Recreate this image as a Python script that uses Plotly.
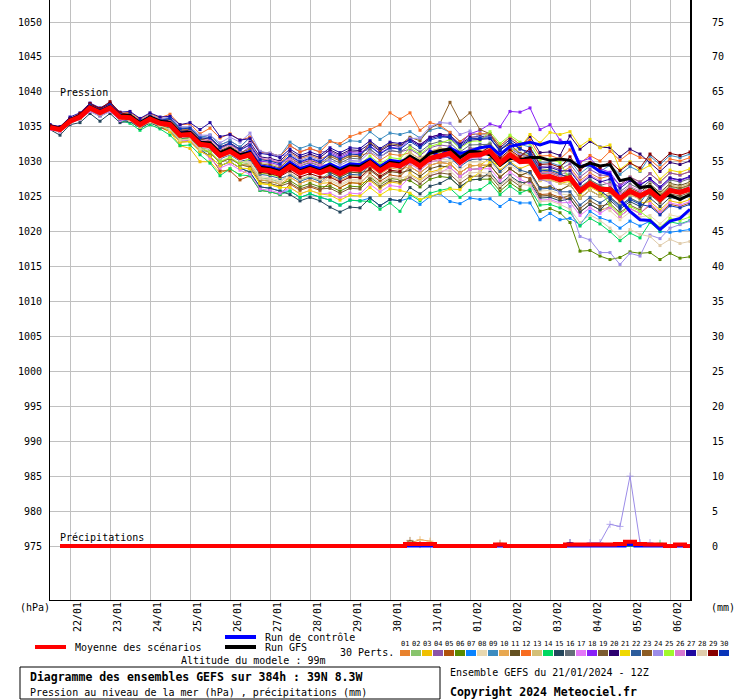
import plotly.graph_objects as go

# ---------------- data ----------------
hours = list(range(0, 385, 6))          # 65 steps, run 21/01/2024 12Z
rr_hours = hours[1:]                    # precipitation accumulations start at +6h
date_hours = [12, 36, 60, 84, 108, 132, 156, 180, 204, 228, 252, 276, 300, 324, 348, 372]
date_labels = ["22/01", "23/01", "24/01", "25/01", "26/01", "27/01", "28/01", "29/01",
               "30/01", "31/01", "01/02", "02/02", "03/02", "04/02", "05/02", "06/02"]
pressure_ticks = [975, 980, 985, 990, 995, 1000, 1005, 1010, 1015, 1020, 1025, 1030, 1035, 1040, 1045, 1050]
precip_ticks = [0, 5, 10, 15, 20, 25, 30, 35, 40, 45, 50, 55, 60, 65, 70, 75]

mean_p = [1034.9, 1034.6, 1035.8, 1036.4, 1037.7, 1037.0, 1037.7, 1036.4, 1036.3, 1035.3, 1036.1, 1035.5,
          1035.3, 1033.8, 1033.9, 1032.5, 1032.3, 1030.9, 1031.5, 1030.6, 1031.0, 1028.9, 1028.7, 1028.3,
          1029.3, 1028.4, 1028.9, 1028.4, 1029.0, 1028.3, 1029.0, 1028.9, 1029.8, 1028.7, 1029.6, 1029.4,
          1030.3, 1029.4, 1030.5, 1030.9, 1031.2, 1029.9, 1030.9, 1031.0, 1031.5, 1029.8, 1031.0, 1030.0,
          1030.1, 1027.8, 1027.9, 1027.4, 1027.7, 1025.8, 1026.9, 1026.1, 1026.0, 1024.7, 1025.8, 1025.1,
          1025.8, 1024.6, 1025.9, 1025.6, 1026.1]
control_p = [1035.0, 1034.7, 1035.9, 1036.5, 1037.9, 1037.2, 1037.9, 1036.6, 1036.5, 1035.5, 1036.3, 1035.7,
             1035.6, 1034.1, 1034.2, 1032.8, 1032.6, 1031.2, 1031.8, 1030.9, 1031.5, 1029.4, 1029.2, 1028.8,
             1029.9, 1029.0, 1029.5, 1029.0, 1029.7, 1029.0, 1029.7, 1029.6, 1030.4, 1029.3, 1030.2, 1030.0,
             1030.5, 1029.4, 1031.5, 1030.8, 1032.0, 1031.2, 1031.5, 1032.0, 1032.2, 1031.0, 1032.2, 1032.5,
             1032.8, 1032.4, 1032.9, 1032.7, 1032.8, 1029.3, 1029.6, 1028.6, 1028.2, 1024.6, 1022.9, 1021.7,
             1021.6, 1020.3, 1021.5, 1021.9, 1023.2]
gfs_p = [1035.1, 1034.8, 1036.0, 1036.6, 1037.9, 1037.2, 1037.9, 1036.6, 1036.6, 1035.6, 1036.4, 1035.8,
         1035.6, 1034.1, 1034.2, 1032.8, 1032.7, 1031.3, 1031.9, 1031.0, 1031.3, 1029.2, 1029.0, 1028.6,
         1029.6, 1028.7, 1029.2, 1028.7, 1029.4, 1028.7, 1029.4, 1029.3, 1030.1, 1029.0, 1029.9, 1029.7,
         1030.8, 1030.0, 1031.2, 1031.6, 1031.8, 1030.6, 1031.5, 1031.4, 1031.0, 1029.5, 1030.5, 1030.3,
         1030.6, 1030.6, 1030.2, 1030.4, 1030.2, 1029.2, 1029.8, 1029.4, 1029.6, 1027.3, 1027.6, 1026.3,
         1026.5, 1025.0, 1025.2, 1024.6, 1025.3]

p01 = [1035.1, 1034.8, 1036.0, 1036.6, 1038.0, 1037.3, 1038.0, 1036.7, 1036.8, 1035.8, 1036.6, 1036.0,
       1036.1, 1034.6, 1034.7, 1033.3, 1033.3, 1031.9, 1032.5, 1031.6, 1032.5, 1030.4, 1030.2, 1029.8,
       1031.3, 1030.4, 1030.9, 1030.4, 1031.0, 1030.3, 1031.0, 1030.9, 1031.3, 1030.2, 1031.1, 1030.9,
       1031.3, 1030.4, 1031.5, 1031.9, 1031.7, 1030.4, 1031.4, 1031.5, 1032.0, 1030.3, 1031.5, 1030.5,
       1031.1, 1028.8, 1028.9, 1028.4, 1029.2, 1027.3, 1028.4, 1027.6, 1028.0, 1026.7, 1027.8, 1027.1,
       1028.3, 1027.1, 1028.4, 1028.1, 1028.6]
p02 = [1034.6, 1034.3, 1035.5, 1036.1, 1037.4, 1036.7, 1037.4, 1036.1, 1035.8, 1034.8, 1035.6, 1035.0,
       1034.5, 1033.0, 1033.1, 1031.7, 1031.3, 1029.9, 1030.5, 1029.6, 1029.8, 1027.7, 1027.5, 1027.1,
       1028.3, 1027.4, 1027.9, 1027.4, 1028.5, 1027.8, 1028.5, 1028.4, 1029.8, 1028.7, 1029.6, 1029.4,
       1030.8, 1029.9, 1031.0, 1031.4, 1032.2, 1030.9, 1031.9, 1032.0, 1032.7, 1031.0, 1032.2, 1031.2,
       1031.1, 1028.8, 1028.9, 1028.4, 1028.2, 1026.3, 1027.4, 1026.6, 1026.0, 1024.7, 1025.8, 1025.1,
       1026.3, 1025.1, 1026.4, 1026.1, 1026.6]
p03 = [1034.9, 1034.6, 1035.8, 1036.4, 1037.4, 1036.7, 1037.4, 1036.1, 1035.8, 1034.8, 1035.6, 1035.0,
       1034.3, 1032.3, 1031.9, 1030.0, 1030.0, 1028.4, 1029.0, 1028.1, 1029.0, 1026.9, 1026.7, 1026.3,
       1027.8, 1026.9, 1027.4, 1026.9, 1027.0, 1026.3, 1027.0, 1026.9, 1027.3, 1026.2, 1027.1, 1026.9,
       1028.3, 1027.4, 1028.5, 1028.9, 1029.7, 1028.4, 1029.4, 1029.5, 1030.5, 1028.8, 1030.0, 1029.0,
       1029.6, 1027.3, 1027.4, 1026.9, 1027.2, 1025.3, 1026.4, 1025.6, 1025.0, 1023.7, 1024.8, 1024.1,
       1024.3, 1023.1, 1024.4, 1024.1, 1024.6]
p04 = [1035.2, 1034.9, 1036.1, 1036.7, 1038.0, 1037.3, 1038.0, 1036.7, 1036.8, 1035.8, 1036.6, 1036.0,
       1036.3, 1034.8, 1034.9, 1033.5, 1033.8, 1032.4, 1033.0, 1032.1, 1033.5, 1031.4, 1031.2, 1030.8,
       1032.3, 1031.4, 1031.9, 1031.4, 1031.5, 1030.8, 1031.5, 1031.4, 1031.8, 1030.7, 1031.6, 1031.4,
       1031.8, 1030.9, 1032.0, 1032.4, 1032.2, 1030.9, 1031.9, 1032.0, 1032.5, 1030.8, 1032.0, 1031.0,
       1031.6, 1029.3, 1029.4, 1028.9, 1029.7, 1027.8, 1028.9, 1028.1, 1028.0, 1026.7, 1027.8, 1027.1,
       1028.3, 1027.1, 1028.4, 1028.1, 1028.6]
p05 = [1034.7, 1034.4, 1035.6, 1036.2, 1037.7, 1037.0, 1037.7, 1036.4, 1035.8, 1034.8, 1035.6, 1035.0,
       1034.3, 1032.8, 1032.9, 1031.5, 1030.8, 1028.7, 1028.7, 1027.4, 1028.0, 1025.9, 1025.7, 1025.3,
       1026.8, 1025.9, 1026.4, 1025.9, 1027.0, 1026.3, 1027.0, 1026.9, 1028.3, 1027.2, 1028.1, 1027.9,
       1029.3, 1028.4, 1029.5, 1029.9, 1029.7, 1028.4, 1029.4, 1029.5, 1029.5, 1027.8, 1029.0, 1028.0,
       1027.6, 1025.3, 1025.4, 1024.9, 1024.7, 1022.8, 1023.9, 1023.1, 1023.5, 1022.2, 1023.3, 1022.6,
       1023.8, 1022.6, 1023.9, 1023.6, 1024.1]
p06 = [1034.9, 1034.6, 1035.8, 1036.4, 1037.5, 1036.8, 1037.5, 1036.2, 1036.0, 1035.0, 1035.8, 1035.2,
       1034.8, 1033.3, 1033.4, 1032.0, 1031.3, 1029.9, 1030.5, 1029.6, 1029.5, 1027.4, 1027.2, 1026.8,
       1027.3, 1026.4, 1026.9, 1026.4, 1026.5, 1025.8, 1026.5, 1026.4, 1027.8, 1026.7, 1027.6, 1027.4,
       1027.3, 1026.4, 1027.5, 1027.9, 1027.7, 1026.4, 1027.4, 1027.5, 1027.5, 1025.8, 1027.0, 1026.0,
       1025.8, 1022.9, 1023.3, 1022.7, 1021.3, 1017.2, 1017.3, 1016.5, 1016.0, 1016.3, 1017.1, 1016.9,
       1017.0, 1016.0, 1016.9, 1016.2, 1016.4]
p07 = [1034.9, 1034.6, 1035.8, 1036.4, 1037.4, 1036.7, 1037.4, 1036.1, 1035.8, 1034.8, 1035.6, 1035.0,
       1034.5, 1033.0, 1033.1, 1031.7, 1030.8, 1029.4, 1030.0, 1029.1, 1028.5, 1026.4, 1026.2, 1025.8,
       1025.8, 1024.9, 1025.4, 1024.9, 1024.5, 1023.8, 1024.5, 1024.4, 1024.8, 1023.7, 1024.6, 1024.4,
       1024.8, 1023.9, 1025.0, 1025.4, 1024.3, 1024.0, 1024.8, 1024.6, 1024.7, 1023.6, 1024.6, 1024.1,
       1024.1, 1021.7, 1022.6, 1021.7, 1021.9, 1021.0, 1022.9, 1022.0, 1021.5, 1020.5, 1021.5, 1020.8,
       1021.5, 1020.0, 1019.9, 1020.1, 1020.3]
p08 = [1034.9, 1034.6, 1035.8, 1036.4, 1037.7, 1037.0, 1037.7, 1036.4, 1036.1, 1035.1, 1035.9, 1035.3,
       1034.8, 1033.3, 1033.4, 1032.0, 1031.5, 1030.1, 1030.7, 1029.8, 1030.0, 1027.9, 1027.7, 1027.3,
       1027.8, 1026.9, 1027.4, 1026.9, 1027.5, 1026.8, 1027.5, 1027.4, 1028.8, 1027.7, 1028.6, 1028.4,
       1029.8, 1028.9, 1030.0, 1030.4, 1030.2, 1028.9, 1029.9, 1030.0, 1030.0, 1028.3, 1029.5, 1028.5,
       1028.1, 1025.8, 1025.9, 1025.4, 1025.2, 1023.3, 1024.4, 1023.6, 1023.0, 1021.7, 1022.8, 1022.1,
       1022.3, 1021.1, 1022.4, 1022.1, 1022.6]
p09 = [1035.1, 1034.8, 1036.0, 1036.6, 1038.0, 1037.3, 1038.0, 1036.7, 1036.8, 1035.8, 1036.6, 1036.0,
       1036.3, 1034.8, 1034.9, 1033.5, 1033.8, 1032.4, 1033.0, 1032.1, 1033.5, 1031.4, 1031.2, 1030.8,
       1032.8, 1031.9, 1032.4, 1031.9, 1033.0, 1032.3, 1033.0, 1032.9, 1034.3, 1033.2, 1034.1, 1033.9,
       1034.3, 1033.4, 1034.5, 1034.9, 1034.2, 1032.9, 1033.9, 1034.0, 1034.0, 1032.3, 1033.5, 1032.5,
       1032.1, 1029.8, 1029.9, 1029.4, 1030.2, 1028.3, 1029.4, 1028.6, 1029.5, 1028.2, 1029.3, 1028.6,
       1030.8, 1029.6, 1030.9, 1030.6, 1031.1]
p10 = [1034.7, 1034.4, 1035.6, 1036.2, 1037.4, 1036.7, 1037.4, 1036.1, 1036.1, 1035.1, 1035.9, 1035.3,
       1034.8, 1033.3, 1033.4, 1032.0, 1031.3, 1029.9, 1030.5, 1029.6, 1029.5, 1027.4, 1027.2, 1026.8,
       1027.8, 1026.9, 1027.4, 1026.9, 1028.0, 1027.3, 1028.0, 1027.9, 1029.3, 1028.2, 1029.1, 1028.9,
       1029.3, 1028.4, 1029.5, 1029.9, 1029.7, 1028.4, 1029.4, 1029.5, 1029.5, 1027.8, 1029.0, 1028.0,
       1028.6, 1026.3, 1026.4, 1025.9, 1026.7, 1024.8, 1025.9, 1025.1, 1025.5, 1024.2, 1025.3, 1024.6,
       1025.8, 1024.6, 1025.9, 1025.6, 1026.1]
p11 = [1035.2, 1034.9, 1036.1, 1036.7, 1038.2, 1037.5, 1038.2, 1036.9, 1036.6, 1035.6, 1036.4, 1035.8,
       1035.8, 1034.3, 1034.4, 1033.0, 1032.8, 1031.4, 1032.0, 1031.1, 1031.3, 1029.2, 1029.0, 1028.6,
       1029.3, 1028.4, 1028.9, 1028.4, 1028.5, 1027.8, 1028.5, 1028.4, 1028.8, 1027.7, 1028.6, 1028.4,
       1028.8, 1027.9, 1029.0, 1029.4, 1029.2, 1027.9, 1028.9, 1029.0, 1029.5, 1027.8, 1029.0, 1028.0,
       1028.6, 1026.3, 1026.4, 1025.9, 1026.7, 1024.8, 1025.9, 1025.1, 1026.5, 1025.2, 1026.3, 1025.6,
       1026.8, 1025.6, 1026.9, 1026.6, 1027.1]
p12 = [1035.1, 1034.8, 1036.0, 1036.6, 1038.2, 1037.5, 1038.2, 1036.9, 1037.1, 1036.1, 1036.9, 1036.3,
       1036.8, 1035.3, 1035.4, 1034.0, 1034.8, 1033.4, 1034.0, 1033.1, 1033.5, 1031.4, 1031.2, 1030.8,
       1032.3, 1031.4, 1031.9, 1031.4, 1032.9, 1032.6, 1033.6, 1034.1, 1034.6, 1035.3, 1037.0, 1036.1,
       1037.0, 1034.5, 1035.6, 1035.2, 1034.2, 1032.9, 1033.9, 1034.0, 1034.0, 1032.3, 1033.5, 1032.5,
       1033.1, 1030.8, 1030.9, 1030.4, 1031.7, 1029.8, 1030.9, 1030.1, 1031.5, 1030.2, 1031.3, 1030.6,
       1030.3, 1029.1, 1030.4, 1030.1, 1030.6]
p13 = [1034.9, 1034.6, 1035.8, 1036.4, 1037.9, 1037.2, 1037.9, 1036.6, 1036.6, 1035.6, 1036.4, 1035.8,
       1035.8, 1034.3, 1034.4, 1033.0, 1032.8, 1031.4, 1032.0, 1031.1, 1032.0, 1029.9, 1029.7, 1029.3,
       1030.3, 1029.4, 1029.9, 1029.4, 1029.5, 1028.8, 1029.5, 1029.4, 1030.3, 1029.2, 1030.1, 1029.9,
       1031.3, 1030.4, 1031.5, 1031.9, 1031.7, 1030.4, 1031.4, 1031.5, 1031.5, 1029.8, 1031.0, 1030.0,
       1029.6, 1027.3, 1027.4, 1026.9, 1026.7, 1024.8, 1025.9, 1025.1, 1024.8, 1023.9, 1025.5, 1025.3,
       1026.6, 1025.4, 1026.7, 1026.4, 1026.9]
p14 = [1034.7, 1034.4, 1035.6, 1036.2, 1037.2, 1036.5, 1037.2, 1035.9, 1035.5, 1034.5, 1035.3, 1034.7,
       1033.8, 1032.3, 1032.4, 1031.0, 1029.8, 1028.0, 1029.0, 1028.1, 1028.0, 1025.9, 1025.7, 1025.3,
       1025.8, 1024.9, 1025.4, 1024.9, 1024.5, 1023.8, 1024.5, 1024.4, 1024.3, 1023.2, 1024.1, 1022.9,
       1025.3, 1024.4, 1025.5, 1025.9, 1026.2, 1024.9, 1025.9, 1026.0, 1027.0, 1025.3, 1026.5, 1025.5,
       1026.1, 1023.8, 1023.9, 1023.4, 1022.7, 1020.8, 1021.9, 1021.1, 1020.0, 1018.7, 1019.8, 1019.1,
       1021.3, 1020.1, 1021.4, 1021.1, 1021.6]
p15 = [1034.6, 1033.8, 1035.3, 1035.6, 1036.9, 1035.8, 1036.9, 1035.6, 1035.8, 1034.8, 1035.6, 1035.0,
       1034.5, 1033.0, 1033.1, 1031.7, 1030.8, 1029.4, 1030.0, 1029.1, 1028.5, 1026.4, 1026.2, 1025.8,
       1025.3, 1024.4, 1024.9, 1024.4, 1023.5, 1022.8, 1023.5, 1023.4, 1024.8, 1023.7, 1024.6, 1024.4,
       1026.3, 1025.4, 1026.5, 1026.9, 1027.7, 1026.4, 1027.4, 1027.5, 1028.5, 1026.8, 1028.0, 1027.0,
       1027.1, 1024.8, 1024.9, 1024.4, 1024.7, 1022.8, 1023.9, 1023.1, 1024.5, 1023.2, 1024.3, 1023.6,
       1024.8, 1023.6, 1024.9, 1024.6, 1025.1]
p16 = [1035.0, 1034.7, 1035.9, 1036.5, 1037.9, 1037.2, 1037.9, 1036.6, 1036.3, 1035.3, 1036.1, 1035.5,
       1035.6, 1034.1, 1034.2, 1032.8, 1032.8, 1031.4, 1032.0, 1031.1, 1031.5, 1029.4, 1029.2, 1028.8,
       1030.3, 1029.4, 1029.9, 1029.4, 1030.5, 1029.8, 1030.5, 1030.4, 1031.8, 1030.7, 1031.6, 1031.4,
       1032.3, 1031.4, 1032.5, 1032.9, 1032.7, 1031.4, 1032.4, 1032.5, 1032.5, 1030.8, 1032.0, 1031.0,
       1030.6, 1028.3, 1028.4, 1027.9, 1028.2, 1026.3, 1027.4, 1026.6, 1027.0, 1025.7, 1026.8, 1026.1,
       1027.3, 1026.1, 1027.4, 1027.1, 1027.6]
p17 = [1034.6, 1034.3, 1035.5, 1036.1, 1037.2, 1036.5, 1037.2, 1035.9, 1036.0, 1035.0, 1035.8, 1035.2,
       1034.5, 1033.0, 1033.1, 1031.7, 1030.5, 1029.1, 1029.7, 1028.8, 1028.2, 1026.1, 1025.9, 1025.5,
       1026.3, 1025.4, 1025.9, 1025.4, 1025.5, 1024.8, 1025.5, 1025.4, 1026.8, 1025.7, 1026.6, 1026.4,
       1027.8, 1026.9, 1028.0, 1028.4, 1029.2, 1027.9, 1028.9, 1029.0, 1029.0, 1027.3, 1028.5, 1027.5,
       1026.8, 1024.5, 1024.6, 1024.1, 1024.2, 1022.3, 1023.4, 1022.6, 1023.5, 1022.2, 1023.3, 1022.6,
       1024.0, 1022.8, 1024.1, 1023.8, 1024.3]
p18 = [1034.9, 1034.6, 1035.8, 1036.4, 1037.9, 1037.2, 1037.9, 1036.6, 1036.6, 1035.6, 1036.4, 1035.8,
       1035.6, 1034.1, 1034.2, 1032.8, 1032.8, 1031.4, 1032.0, 1031.1, 1032.2, 1030.1, 1029.9, 1029.5,
       1030.8, 1029.9, 1030.4, 1029.9, 1031.3, 1030.6, 1031.3, 1031.2, 1032.3, 1031.2, 1032.1, 1031.9,
       1033.3, 1032.4, 1033.5, 1033.9, 1033.5, 1032.5, 1034.0, 1034.5, 1035.4, 1035.0, 1037.2, 1037.1,
       1037.7, 1034.6, 1035.3, 1033.1, 1032.5, 1030.0, 1030.5, 1029.0, 1028.5, 1026.5, 1027.5, 1026.8,
       1027.5, 1026.2, 1027.6, 1027.3, 1027.8]
p19 = [1034.9, 1034.6, 1035.8, 1036.4, 1037.7, 1037.0, 1037.7, 1036.4, 1036.0, 1035.0, 1035.8, 1035.2,
       1034.8, 1033.3, 1033.4, 1032.0, 1031.3, 1029.9, 1030.5, 1029.6, 1029.2, 1027.1, 1026.9, 1026.5,
       1027.0, 1026.1, 1026.6, 1026.1, 1026.2, 1025.5, 1026.2, 1026.1, 1027.5, 1026.4, 1027.3, 1027.1,
       1027.8, 1026.9, 1028.0, 1028.4, 1028.2, 1026.9, 1027.9, 1028.0, 1028.0, 1026.3, 1027.5, 1026.5,
       1027.4, 1025.1, 1025.2, 1024.7, 1025.2, 1023.3, 1024.4, 1023.6, 1024.0, 1022.7, 1023.8, 1023.1,
       1025.3, 1024.1, 1025.4, 1025.1, 1025.6]
p20 = [1035.3, 1035.0, 1036.2, 1036.8, 1038.3, 1037.6, 1038.3, 1037.0, 1036.7, 1035.7, 1036.5, 1035.9,
       1035.9, 1034.4, 1034.5, 1033.1, 1033.5, 1032.1, 1032.7, 1031.8, 1032.8, 1030.7, 1030.5, 1030.1,
       1031.5, 1030.6, 1031.1, 1030.6, 1031.7, 1031.0, 1031.7, 1031.6, 1032.6, 1031.5, 1032.4, 1032.2,
       1033.3, 1032.4, 1033.5, 1033.9, 1033.8, 1032.5, 1033.5, 1033.6, 1033.7, 1032.0, 1033.2, 1032.2,
       1033.6, 1031.3, 1031.4, 1030.9, 1033.7, 1031.8, 1032.9, 1032.1, 1032.0, 1030.7, 1031.8, 1031.1,
       1029.8, 1028.6, 1029.9, 1029.6, 1030.1]
p21 = [1034.8, 1034.5, 1035.7, 1036.3, 1037.5, 1036.8, 1037.5, 1036.2, 1036.0, 1035.0, 1035.8, 1035.2,
       1034.3, 1032.8, 1032.9, 1031.5, 1030.8, 1029.4, 1030.0, 1029.1, 1029.0, 1026.9, 1026.7, 1026.3,
       1026.3, 1025.4, 1025.9, 1025.4, 1025.2, 1024.5, 1025.2, 1025.1, 1026.3, 1025.2, 1026.1, 1025.9,
       1025.5, 1024.6, 1025.0, 1025.5, 1026.1, 1026.0, 1027.5, 1028.5, 1030.0, 1029.5, 1031.5, 1032.0,
       1033.9, 1032.7, 1034.2, 1033.9, 1034.3, 1032.2, 1033.2, 1032.0, 1032.4, 1028.9, 1030.0, 1028.7,
       1029.5, 1027.5, 1028.8, 1028.5, 1029.0]
p22 = [1035.0, 1034.7, 1035.9, 1036.5, 1037.4, 1036.7, 1037.4, 1036.1, 1035.8, 1034.8, 1035.6, 1035.0,
       1034.8, 1033.3, 1033.4, 1032.0, 1031.8, 1030.4, 1031.0, 1030.1, 1030.3, 1028.2, 1028.0, 1027.6,
       1028.1, 1027.2, 1027.7, 1027.2, 1028.2, 1027.5, 1028.2, 1028.1, 1029.6, 1028.5, 1029.4, 1029.2,
       1030.1, 1029.2, 1030.3, 1030.7, 1030.6, 1029.3, 1030.3, 1030.4, 1030.3, 1028.6, 1029.8, 1028.8,
       1028.4, 1026.1, 1026.2, 1025.7, 1025.7, 1023.8, 1024.9, 1024.1, 1025.0, 1023.7, 1024.8, 1024.1,
       1026.1, 1024.9, 1026.2, 1025.9, 1026.4]
p23 = [1035.0, 1034.9, 1035.9, 1036.5, 1038.1, 1037.4, 1038.1, 1036.8, 1036.9, 1035.9, 1036.7, 1036.1,
       1036.0, 1034.5, 1034.6, 1033.2, 1033.0, 1031.6, 1032.2, 1031.3, 1031.8, 1029.7, 1029.5, 1029.1,
       1030.6, 1029.7, 1030.2, 1029.7, 1030.8, 1030.1, 1030.8, 1030.7, 1032.8, 1031.7, 1032.6, 1032.4,
       1033.5, 1033.0, 1034.8, 1035.5, 1038.5, 1035.8, 1037.0, 1034.6, 1034.0, 1031.8, 1032.5, 1031.2,
       1030.8, 1028.5, 1028.6, 1028.1, 1027.9, 1026.0, 1027.1, 1026.3, 1025.7, 1024.4, 1025.5, 1024.8,
       1026.4, 1025.2, 1026.5, 1026.2, 1026.7]
p24 = [1034.9, 1034.7, 1035.9, 1036.6, 1038.1, 1037.1, 1037.9, 1036.8, 1036.7, 1035.9, 1036.7, 1036.1,
       1036.4, 1035.0, 1035.0, 1033.8, 1033.8, 1032.7, 1033.5, 1032.8, 1034.1, 1031.5, 1031.2, 1030.8,
       1031.1, 1030.2, 1030.7, 1030.2, 1030.2, 1029.5, 1030.2, 1030.1, 1031.4, 1030.6, 1031.8, 1032.0,
       1033.3, 1033.4, 1035.0, 1035.6, 1035.5, 1033.9, 1034.4, 1033.5, 1033.5, 1031.3, 1032.0, 1031.0,
       1030.6, 1027.5, 1027.0, 1025.5, 1023.6, 1019.3, 1018.8, 1017.0, 1017.0, 1015.3, 1016.9, 1016.5,
       1019.5, 1019.0, 1020.5, 1021.0, 1021.5]
p25 = [1034.8, 1034.5, 1035.6, 1036.2, 1037.6, 1036.9, 1037.6, 1036.3, 1035.9, 1034.9, 1035.7, 1035.1,
       1034.7, 1033.2, 1033.3, 1031.9, 1031.4, 1030.0, 1030.6, 1029.7, 1030.5, 1028.4, 1028.2, 1027.8,
       1029.6, 1028.7, 1029.2, 1028.7, 1029.8, 1029.1, 1029.8, 1029.7, 1030.8, 1029.7, 1030.6, 1030.4,
       1032.0, 1031.1, 1032.2, 1032.6, 1033.2, 1031.9, 1032.9, 1033.0, 1034.3, 1032.6, 1033.8, 1032.8,
       1032.6, 1030.3, 1030.4, 1029.9, 1027.4, 1025.5, 1026.6, 1025.8, 1023.8, 1022.5, 1023.6, 1022.9,
       1021.8, 1020.6, 1021.9, 1021.6, 1022.1]
p26 = [1035.0, 1034.7, 1035.9, 1036.5, 1037.8, 1037.1, 1037.8, 1036.5, 1036.5, 1035.5, 1036.3, 1035.7,
       1035.7, 1034.2, 1034.3, 1032.9, 1033.2, 1031.8, 1032.4, 1031.5, 1032.6, 1030.5, 1030.3, 1029.9,
       1030.4, 1029.5, 1030.0, 1029.5, 1029.6, 1028.9, 1029.6, 1029.5, 1029.9, 1028.8, 1029.7, 1029.5,
       1029.7, 1028.8, 1029.9, 1030.3, 1030.8, 1029.5, 1030.5, 1030.6, 1031.6, 1029.9, 1031.1, 1030.1,
       1030.7, 1028.4, 1028.5, 1028.0, 1028.9, 1027.0, 1028.1, 1027.3, 1026.7, 1025.4, 1026.5, 1025.8,
       1026.0, 1024.8, 1026.1, 1025.8, 1026.3]
p27 = [1035.3, 1035.0, 1036.4, 1037.0, 1038.4, 1037.7, 1038.4, 1037.1, 1037.2, 1036.2, 1037.0, 1036.4,
       1036.5, 1035.3, 1035.6, 1034.6, 1035.6, 1033.6, 1033.9, 1033.1, 1033.3, 1031.2, 1031.0, 1030.6,
       1031.8, 1030.9, 1031.4, 1030.9, 1032.0, 1031.3, 1032.0, 1031.9, 1033.0, 1031.9, 1032.8, 1032.6,
       1033.1, 1032.2, 1033.3, 1033.7, 1033.4, 1032.1, 1033.1, 1033.2, 1033.3, 1031.6, 1032.8, 1031.8,
       1031.4, 1029.1, 1029.2, 1028.7, 1028.7, 1026.8, 1027.9, 1027.1, 1027.5, 1026.2, 1027.3, 1026.6,
       1027.6, 1026.4, 1027.7, 1027.4, 1027.9]
p28 = [1034.9, 1034.5, 1035.8, 1036.3, 1037.4, 1036.8, 1037.4, 1036.2, 1035.9, 1035.0, 1035.7, 1035.2,
       1034.6, 1033.1, 1033.2, 1031.8, 1031.9, 1030.5, 1031.1, 1030.2, 1029.7, 1027.6, 1027.4, 1027.0,
       1028.4, 1027.5, 1028.0, 1027.5, 1027.3, 1026.6, 1027.3, 1027.2, 1028.0, 1026.9, 1027.8, 1027.6,
       1028.1, 1027.2, 1028.3, 1028.7, 1028.7, 1027.4, 1028.4, 1028.5, 1028.3, 1026.6, 1027.8, 1026.8,
       1026.6, 1024.3, 1024.4, 1023.9, 1023.2, 1021.3, 1022.4, 1021.6, 1020.5, 1019.2, 1020.3, 1019.6,
       1019.3, 1018.0, 1018.9, 1018.3, 1018.6]
p29 = [1035.2, 1034.9, 1036.1, 1036.9, 1038.3, 1037.6, 1038.6, 1037.0, 1036.7, 1035.7, 1036.5, 1035.9,
       1035.5, 1034.0, 1034.1, 1032.7, 1032.4, 1031.0, 1031.6, 1030.7, 1030.6, 1028.5, 1028.3, 1027.9,
       1028.7, 1027.8, 1028.3, 1027.8, 1027.8, 1027.1, 1027.8, 1027.7, 1029.0, 1027.9, 1028.8, 1028.6,
       1030.0, 1029.1, 1030.2, 1030.6, 1031.4, 1030.1, 1031.1, 1031.2, 1032.2, 1030.5, 1031.7, 1030.7,
       1031.9, 1029.6, 1029.7, 1029.2, 1030.7, 1028.8, 1029.9, 1029.1, 1030.0, 1028.7, 1029.8, 1029.1,
       1031.1, 1029.9, 1031.2, 1030.9, 1031.4]
p30 = [1035.0, 1034.7, 1035.9, 1036.5, 1038.1, 1037.4, 1038.1, 1036.8, 1036.7, 1035.7, 1036.5, 1035.9,
       1036.2, 1034.7, 1034.8, 1033.4, 1033.4, 1032.0, 1032.6, 1031.7, 1032.4, 1030.3, 1030.1, 1029.7,
       1030.9, 1030.0, 1030.5, 1030.0, 1031.1, 1030.4, 1031.1, 1031.0, 1032.2, 1031.1, 1032.0, 1031.8,
       1032.9, 1032.0, 1033.1, 1033.5, 1033.6, 1032.3, 1033.3, 1033.4, 1033.4, 1031.7, 1032.9, 1031.9,
       1031.0, 1028.7, 1028.8, 1028.3, 1027.5, 1025.6, 1026.7, 1025.9, 1024.8, 1023.5, 1024.6, 1023.9,
       1023.6, 1022.4, 1023.7, 1023.4, 1023.9]

pert_colors = ["#e8822e", "#88c46c", "#f0c000", "#8c54a8", "#b0520c", "#5a8a00", "#0a84ff", "#e8d8b0",
               "#3c8cc0", "#e8a850", "#645020", "#f86c20", "#d4c078", "#00d860", "#24465c", "#646e78",
               "#e478f8", "#8820f8", "#7c5c30", "#2c0070", "#f0d800", "#2c5c9c", "#8c5c24", "#9c8ce8",
               "#a0f82c", "#d878d0", "#2008a0", "#e0ccac", "#880000", "#0834b8"]
pert_names = ["01", "02", "03", "04", "05", "06", "07", "08", "09", "10", "11", "12", "13", "14", "15",
              "16", "17", "18", "19", "20", "21", "22", "23", "24", "25", "26", "27", "28", "29", "30"]

# precipitation (mm / 6h), from +6h to +384h
mean_rr = [0, 0, 0, 0, 0, 0, 0, 0,  0, 0, 0, 0, 0, 0, 0, 0,
           0, 0, 0, 0, 0, 0, 0, 0,  0, 0, 0, 0, 0, 0, 0, 0,
           0, 0, 0, 0.3, 0.3, 0.3, 0, 0,  0, 0, 0, 0, 0.2, 0, 0, 0,
           0, 0, 0, 0.2, 0.2, 0.2, 0.2, 0.2,  0.3, 0.6, 0.3, 0.2, 0.2, 0, 0.2, 0]
control_rr = [0, 0, 0, 0, 0, 0, 0, 0,  0, 0, 0, 0, 0, 0, 0, 0,
              0, 0, 0, 0, 0, 0, 0, 0,  0, 0, 0, 0, 0, 0, 0, 0,
              0, 0, 0, 0, 0, 0, 0, 0,  0, 0, 0, 0, 0, 0, 0, 0,
              0, 0, 0, 0, 0, 0, 0, 0,  0, 0.2, 0, 0, 0, 0, 0, 0]
p10_rr = [0, 0, 0, 0, 0, 0, 0, 0,  0, 0, 0, 0, 0, 0, 0, 0,
          0, 0, 0, 0, 0, 0, 0, 0,  0, 0, 0, 0, 0, 0, 0, 0,
          0, 0, 0, 0.4, 0.9, 0.7, 0, 0,  0, 0, 0, 0, 0, 0, 0, 0,
          0, 0, 0, 0, 0, 0, 0, 0,  0, 0, 0, 0, 0, 0, 0, 0]
p23_rr = [0, 0, 0, 0, 0, 0, 0, 0,  0, 0, 0, 0, 0, 0, 0, 0,
          0, 0, 0, 0, 0, 0, 0, 0,  0, 0, 0, 0, 0, 0, 0, 0,
          0, 0, 0, 0.8, 0.2, 0, 0, 0,  0, 0, 0, 0, 0.4, 0, 0, 0,
          0, 0, 0, 0, 0, 0, 0, 0,  0, 0, 0, 0, 0, 0, 0, 0]
p24_rr = [0, 0, 0, 0, 0, 0, 0, 0,  0, 0, 0, 0, 0, 0, 0, 0,
          0, 0, 0, 0, 0, 0, 0, 0,  0, 0, 0, 0, 0, 0, 0, 0,
          0, 0, 0, 0, 0, 0, 0, 0,  0, 0, 0, 0, 0, 0, 0, 0,
          0, 0, 0, 0, 0, 0.5, 0.5, 3.1,  2.8, 10.0, 0.5, 0.5, 0, 0, 0, 0]
p27_rr = [0, 0, 0, 0, 0, 0, 0, 0,  0, 0, 0, 0, 0, 0, 0, 0,
          0, 0, 0, 0, 0, 0, 0, 0,  0, 0, 0, 0, 0, 0, 0, 0,
          0, 0, 0, 0, 0, 0, 0, 0,  0, 0, 0, 0, 0, 0, 0, 0,
          0, 0, 0, 0.5, 0, 0, 0, 0,  0, 0, 0, 0, 0, 0, 0, 0]
p14_rr = [0, 0, 0, 0, 0, 0, 0, 0,  0, 0, 0, 0, 0, 0, 0, 0,
          0, 0, 0, 0, 0, 0, 0, 0,  0, 0, 0, 0, 0, 0, 0, 0,
          0, 0, 0, 0, 0, 0, 0, 0,  0, 0, 0, 0, 0, 0, 0, 0,
          0, 0, 0, 0, 0, 0, 0, 0,  0, 0, 0, 0, 0.4, 0, 0, 0]

perts = [p01, p02, p03, p04, p05, p06, p07, p08, p09, p10, p11, p12, p13, p14, p15,
         p16, p17, p18, p19, p20, p21, p22, p23, p24, p25, p26, p27, p28, p29, p30]
pert_rr = [(p10_rr, 9), (p23_rr, 22), (p27_rr, 26), (p14_rr, 13), (p24_rr, 23)]

# ---------------- figure ----------------
FONT = "DejaVu Sans Mono"
W, H = 740, 700
L, R, T, B = 50, 50, 0, 100
PW, PH = W - L - R, H - T - B
HOURS_PER_PX = 384.0 / PW


def px(x):
    return (x - L) / PW


def py(y):
    return (H - B - y) / PH


fig = go.Figure()

for vals, col in zip(perts, pert_colors):
    fig.add_trace(go.Scatter(x=hours, y=vals, mode="lines+markers",
                             line=dict(color=col, width=1),
                             marker=dict(color=col, size=3, symbol="square"),
                             hoverinfo="skip", showlegend=False))
fig.add_trace(go.Scatter(x=hours, y=control_p, mode="lines", line=dict(color="#0000ff", width=3),
                         hoverinfo="skip", showlegend=False))
fig.add_trace(go.Scatter(x=hours, y=gfs_p, mode="lines", line=dict(color="#000000", width=3),
                         hoverinfo="skip", showlegend=False))
fig.add_trace(go.Scatter(x=hours, y=mean_p, mode="lines", line=dict(color="#ff0000", width=5),
                         hoverinfo="skip", showlegend=False))

# precipitation on the right axis
for vals, k in pert_rr:
    sizes = [5 if v > 0 else 0 for v in vals]
    fig.add_trace(go.Scatter(x=rr_hours, y=vals, yaxis="y2", mode="lines+markers",
                             line=dict(color=pert_colors[k], width=1),
                             marker=dict(symbol="cross-thin", size=sizes,
                                         line=dict(color=pert_colors[k], width=1)),
                             hoverinfo="skip", showlegend=False))
fig.add_trace(go.Scatter(x=rr_hours, y=control_rr, yaxis="y2", mode="lines", line_shape="hvh",
                         line=dict(color="#0000ff", width=3), hoverinfo="skip", showlegend=False))
fig.add_trace(go.Scatter(x=rr_hours, y=mean_rr, yaxis="y2", mode="lines", line_shape="hvh",
                         line=dict(color="#ff0000", width=4), hoverinfo="skip", showlegend=False))

# axis ranges: 975 hPa at y=546 px, 1050 hPa at y=22 px ; precipitation 0 mm <-> 975 hPa
scale = (546 - 22) / 75.0
ytop = 1050 + 22 / scale
ybot = ytop - PH / scale

fig.update_layout(
    width=W, height=H, autosize=False,
    margin=dict(l=L, r=R, t=T, b=B, pad=0),
    paper_bgcolor="white", plot_bgcolor="white", showlegend=False,
    font=dict(family=FONT, size=10, color="black"),
    xaxis=dict(range=[0, 384], tickvals=date_hours, showticklabels=False,
               showgrid=True, gridcolor="#c0c0c0", gridwidth=1, zeroline=False,
               showline=True, linecolor="black", linewidth=1, ticks="", fixedrange=True),
    yaxis=dict(range=[ybot, ytop], tickvals=pressure_ticks, showgrid=True, gridcolor="#c0c0c0",
               gridwidth=1, zeroline=False, showline=True, linecolor="black", linewidth=1,
               ticks="", ticklabelstandoff=5, fixedrange=True,
               tickfont=dict(family=FONT, size=10, color="black")),
    yaxis2=dict(range=[ybot - 975, ytop - 975], tickvals=precip_ticks, overlaying="y", side="right",
                showgrid=False, zeroline=False, showline=True, linecolor="black", linewidth=2,
                ticks="", ticklabelstandoff=18, fixedrange=True,
                tickfont=dict(family=FONT, size=10, color="black")),
)


def ann(text, x, y, size=10, xanchor="left", bold=False):
    return dict(text=("<b>%s</b>" % text) if bold else text, x=px(x), y=py(y),
                xref="paper", yref="paper", xanchor=xanchor, yanchor="middle",
                showarrow=False, font=dict(family=FONT, size=size, color="black"))


def rect(x0, y0, x1, y1, fill=None, line=None, lw=0):
    d = dict(type="rect", xref="paper", yref="paper", x0=px(x0), x1=px(x1), y0=py(y1), y1=py(y0),
             line=dict(width=lw, color=line or "rgba(0,0,0,0)"))
    if fill:
        d["fillcolor"] = fill
    return d


annotations = [
    ann("Pression", 58, 92),
    ann("Précipitations", 58, 537),
    ann("(hPa)", 18, 607),
    ann("(mm)", 709, 607),
    ann("Moyenne des scénarios", 73, 647),
    ann("Run de contrôle", 263, 637),
    ann("Run GFS", 263, 647),
    ann("Altitude du modele : 99m", 179, 660),
    ann("30 Perts.", 338, 652),
    ann("Diagramme des ensembles GEFS sur 384h : 39N 8.3W", 28, 677, size=11.5, bold=True),
    ann("Pression au niveau de la mer (hPa) , précipitations (mm)", 28, 692),
    ann("Ensemble GEFS du 21/01/2024 - 12Z", 448, 672),
    ann("Copyright 2024 Meteociel.fr", 448, 692, size=11.5, bold=True),
]
# date labels: vertical text centred at y=617 px (602-632), a few pixels right of each grid line
for h, lab in zip(date_hours, date_labels):
    annotations.append(dict(text=lab, x=h + 7 * HOURS_PER_PX, xref="x", y=py(617), yref="paper",
                            xanchor="center", yanchor="middle", textangle=-90, showarrow=False,
                            borderpad=0, font=dict(family=FONT, size=10, color="black")))

shapes = [
    rect(35, 645, 66, 649, fill="#ff0000"),
    rect(225, 635, 256, 639, fill="#0000ff"),
    rect(225, 645, 256, 649, fill="#000000"),
    rect(20, 667, 440, 699, line="black", lw=1),
]
for k, (name, col) in enumerate(zip(pert_names, pert_colors)):
    x0 = 400 + 11 * k
    shapes.append(rect(x0, 650, x0 + 10, 656, fill=col))
    annotations.append(ann(name, x0 + 5, 644, size=7, xanchor="center"))

fig.update_layout(annotations=annotations, shapes=shapes)

fig.write_html("out.html")
